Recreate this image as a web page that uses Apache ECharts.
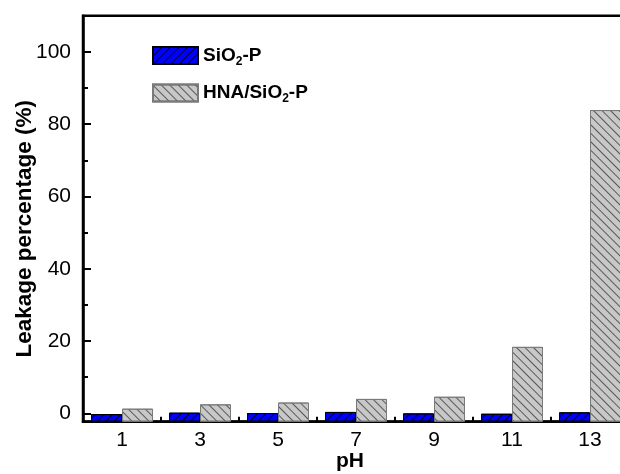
<!DOCTYPE html>
<html>
<head>
<meta charset="utf-8">
<script src="https://cdn.jsdelivr.net/npm/echarts@6/dist/echarts.min.js"></script>
<style>
  html, body { margin: 0; padding: 0; background: #fff; }
  #chart { width: 620px; height: 474px; }
</style>
</head>
<body>
<div id="chart"></div>
<script>
// pH values on the category axis
const phLevels = ['1', '3', '5', '7', '9', '11', '13'];
// Leakage percentage (%) for each material
const sio2P = [-0.2, 0.2, 0.1, 0.4, 0.0, -0.1, 0.3];
const hnaSio2P = [1.3, 2.5, 3.0, 4.0, 4.6, 18.4, 83.9];
// Value axis settings
const yMin = -2.3;
const yMax = 110;
const majorTicks = [0, 20, 40, 60, 80, 100];
const minorTicks = [10, 30, 50, 70, 90, 110];

const FONT = '"Liberation Sans", Arial, Helvetica, sans-serif';

// Bars rise from the bottom of the value axis: a transparent base segment
// reaches down to yMin, then the visible bar is stacked on top of it.
const baseData = phLevels.map(() => yMin);
const lift = arr => arr.map(v => v - yMin);

const chart = echarts.init(document.getElementById('chart'), null, { renderer: 'canvas' });

const axisLine = { show: true, onZero: false, lineStyle: { color: '#000', width: 2.5 } };

chart.setOption({
  backgroundColor: '#fff',
  animation: false,
  grid: {
    left: 83, top: 15.7, right: -9, bottom: 52.3,
    containLabel: false, outerBoundsMode: 'none',
    show: true, borderColor: '#000', borderWidth: 2.5, backgroundColor: 'transparent'
  },
  legend: {
    data: ['SiO2-P', 'HNA/SiO2-P'],
    orient: 'vertical',
    left: 152, top: 46,
    padding: 0,
    itemWidth: 45, itemHeight: 17, itemGap: 16,
    icon: 'rect',
    formatter: name => name === 'SiO2-P' ? '{a|SiO}{s|2}{a|-P}' : '{a|HNA/SiO}{s|2}{a|-P}',
    textStyle: {
      rich: {
        a: { fontFamily: FONT, fontWeight: 'bold', fontSize: 19, color: '#000', lineHeight: 24 },
        s: { fontFamily: FONT, fontWeight: 'bold', fontSize: 12, color: '#000', lineHeight: 24, verticalAlign: 'bottom' }
      }
    }
  },
  xAxis: {
    type: 'category',
    data: phLevels,
    boundaryGap: true,
    name: 'pH',
    nameLocation: 'middle',
    nameGap: 29,
    nameMoveOverlap: false,
    nameTextStyle: { fontFamily: FONT, fontWeight: 'bold', fontSize: 21, color: '#000', padding: [0, 12, 0, 0] },
    axisLine: axisLine,
    axisTick: { show: true, inside: true, length: 5, lineStyle: { color: '#000', width: 2 } },
    axisLabel: { fontFamily: FONT, fontSize: 21, color: '#000', margin: 8 },
    splitLine: { show: false }
  },
  yAxis: [
    {
      type: 'value',
      min: yMin, max: yMax,
      name: 'Leakage percentage (%)',
      nameLocation: 'middle',
      nameGap: 47,
      nameMoveOverlap: false,
      nameTextStyle: { fontFamily: FONT, fontWeight: 'bold', fontSize: 22.5, color: '#000', padding: [0, 20, 0, 0] },
      axisLine: axisLine,
      axisTick: { show: true, inside: true, length: 8, customValues: majorTicks, lineStyle: { color: '#000', width: 2 } },
      axisLabel: { fontFamily: FONT, fontSize: 21, color: '#000', margin: 12, customValues: majorTicks },
      splitLine: { show: false }
    },
    {
      // minor ticks only
      type: 'value',
      position: 'left',
      min: yMin, max: yMax,
      axisLine: { show: false },
      axisTick: { show: true, inside: true, length: 5, customValues: minorTicks, lineStyle: { color: '#000', width: 2 } },
      axisLabel: { show: false },
      splitLine: { show: false }
    }
  ],
  series: [
    {
      name: 'base-a', type: 'bar', stack: 'a', stackStrategy: 'all',
      data: baseData, barWidth: 31, barGap: '0%', silent: true,
      itemStyle: { color: 'rgba(0,0,0,0)' }
    },
    {
      name: 'SiO2-P', type: 'bar', stack: 'a', stackStrategy: 'all',
      data: lift(sio2P), barWidth: 31, barGap: '0%',
      itemStyle: {
        color: '#0000ff', borderColor: '#000', borderWidth: 1,
        decal: {
          symbol: 'rect', symbolSize: 1, color: 'rgba(0,0,0,0.85)',
          dashArrayX: [1, 0], dashArrayY: [1, 5], rotation: -Math.PI / 4
        }
      }
    },
    {
      name: 'base-b', type: 'bar', stack: 'b', stackStrategy: 'all',
      data: baseData, barWidth: 31, barGap: '0%', silent: true,
      itemStyle: { color: 'rgba(0,0,0,0)' }
    },
    {
      name: 'HNA/SiO2-P', type: 'bar', stack: 'b', stackStrategy: 'all',
      data: lift(hnaSio2P), barWidth: 31, barGap: '0%',
      itemStyle: {
        color: '#c8c8c8', borderColor: '#7a7a7a', borderWidth: 1,
        decal: {
          symbol: 'rect', symbolSize: 1, color: 'rgba(60,60,60,0.8)',
          dashArrayX: [1, 0], dashArrayY: [1, 5], rotation: Math.PI / 4
        }
      }
    }
  ]
});
</script>
</body>
</html>
